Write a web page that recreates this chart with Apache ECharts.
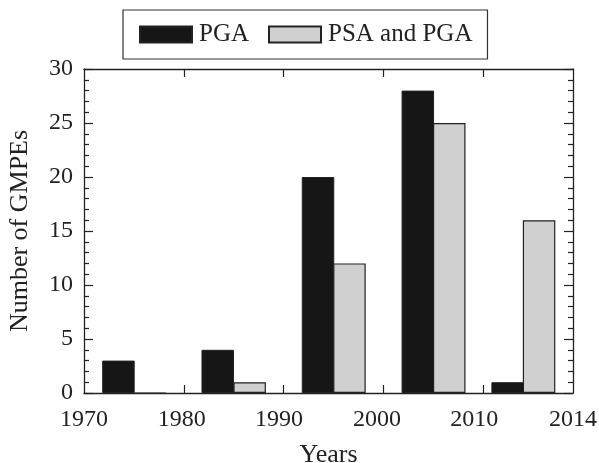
<!DOCTYPE html>
<html>
<head>
<meta charset="utf-8">
<script src="https://cdn.jsdelivr.net/npm/echarts@6/dist/echarts.min.js"></script>
<style>html,body{margin:0;padding:0;background:#fff;}#c{width:599px;height:463px;}</style>
</head>
<body>
<div id="c"></div>
<script>
// Data
const pgaYears = [1973.45, 1983.4, 1993.45, 2003.45, 2012.45];
const pgaCounts = [3, 4, 20, 28, 1];
const psaYears = [1976.6, 1986.6, 1996.6, 2006.6, 2015.6];
const psaCounts = [0, 1, 12, 25, 16];
const xTickValues = [1980, 1990, 2000, 2010];
const xLabelAt = [1970, 1979.8, 1989.55, 1999.35, 2009.1, 2019];
const xTickLabels = ['1970', '1980', '1990', '2000', '2010', '2014'];
const xMin = 1970, xMax = 2019;
const seriesNames = ['PGA', 'PSA and PGA'];

const font = 'Liberation Serif';
const chart = echarts.init(document.getElementById('c'));
const axisLine = { show: true, onZero: false, lineStyle: { color: '#222', width: 1.3 } };
const tickStyle = { color: '#222', width: 1.2 };

chart.setOption({
  animation: false,
  backgroundColor: '#fff',
  textStyle: { fontFamily: font, color: '#222' },
  legend: {
    left: 123, top: 10,
    padding: [12, 15, 12, 16],
    borderColor: '#333', borderWidth: 1.2,
    itemWidth: 52, itemHeight: 16, itemGap: 19,
    icon: 'rect',
    textStyle: { fontFamily: font, fontSize: 25, color: '#222', padding: [0, 0, 0, 2] },
    data: seriesNames
  },
  grid: { left: 84, right: 26, top: 69, bottom: 70, containLabel: false, outerBoundsMode: 'none' },
  xAxis: [{
    type: 'value', min: xMin, max: xMax,
    name: 'Years', nameLocation: 'middle', nameGap: 49,
    nameTextStyle: { fontFamily: font, fontSize: 26, color: '#222' },
    axisLine: axisLine,
    axisTick: { show: true, inside: true, length: 8, lineStyle: tickStyle, customValues: xTickValues },
    axisLabel: {
      fontFamily: font, fontSize: 24, color: '#222', margin: 15,
      customValues: xLabelAt,
      formatter: v => { const i = xLabelAt.indexOf(v); return i >= 0 ? xTickLabels[i] : ''; }
    },
    splitLine: { show: false }
  }, {
    type: 'value', min: xMin, max: xMax, position: 'top',
    axisLine: axisLine,
    axisTick: { show: true, inside: true, length: 8, lineStyle: tickStyle, customValues: xTickValues },
    axisLabel: { show: false },
    splitLine: { show: false }
  }],
  yAxis: [{
    type: 'value', min: 0, max: 30, interval: 5,
    name: 'Number of GMPEs', nameLocation: 'middle', nameGap: 51,
    nameTextStyle: { fontFamily: font, fontSize: 26, color: '#222' },
    axisLine: axisLine,
    axisTick: { show: true, inside: true, length: 9, lineStyle: tickStyle },
    minorTick: { show: true, splitNumber: 5, length: 5, lineStyle: tickStyle },
    axisLabel: { fontFamily: font, fontSize: 24, color: '#222', margin: 11 },
    splitLine: { show: false }
  }, {
    type: 'value', min: 0, max: 30, interval: 5, position: 'right',
    axisLine: axisLine,
    axisTick: { show: true, inside: true, length: 9, lineStyle: tickStyle },
    minorTick: { show: true, splitNumber: 5, length: 5, lineStyle: tickStyle },
    axisLabel: { show: false },
    splitLine: { show: false }
  }],
  series: [{
    name: seriesNames[0], type: 'bar', xAxisIndex: 0, yAxisIndex: 0,
    barWidth: 32.5, barGap: '-100%',
    itemStyle: { color: '#161616', borderColor: '#222', borderWidth: 1 },
    data: pgaYears.map((x, i) => [x, pgaCounts[i]])
  }, {
    name: seriesNames[1], type: 'bar', xAxisIndex: 0, yAxisIndex: 0,
    barWidth: 32.5, barGap: '-100%',
    itemStyle: { color: '#cfd0cf', borderColor: '#222', borderWidth: 1.2 },
    data: psaYears.map((x, i) => [x, psaCounts[i]])
  }]
});
</script>
</body>
</html>
